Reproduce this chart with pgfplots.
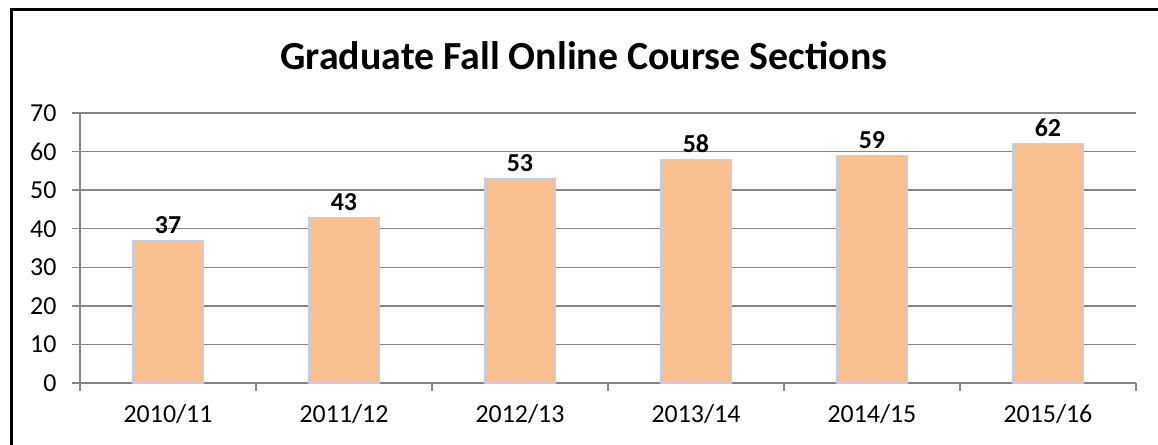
\documentclass[border=0pt]{standalone}
\usepackage{fontspec}
\setmainfont{Carlito}
\usepackage{pgfplots}
\pgfplotsset{compat=1.18}
\definecolor{barfill}{RGB}{249,192,144}
\definecolor{baredge}{RGB}{190,208,232}
\definecolor{gridc}{RGB}{134,134,134}

\begin{document}
\begin{tikzpicture}
\useasboundingbox (0,0) rectangle (1158bp,445bp);
\begin{scope}
  \clip (0,0) rectangle (1158bp,445bp);
  \draw[line width=3bp] (11bp,-20bp) -- (11bp,435bp) -- (1180bp,435bp);
\end{scope}
\node[font=\fontsize{40}{46}\selectfont\bfseries] at (584bp,389bp) {Graduate Fall Online Course Sections};
\begin{axis}[
  at={(80bp,62bp)}, anchor=south west,
  scale only axis, width=1056bp, height=270bp,
  xmin=-0.5, xmax=5.5, ymin=0, ymax=70,
  ytick={0,10,...,70},
  xtick={0,...,5},
  xticklabels={2010/11,2011/12,2012/13,2013/14,2014/15,2015/16},
  minor xtick={-0.5,0.5,...,5.5},
  major x tick style={draw=none},
  minor tick length=8bp, major tick length=8bp,
  tick align=outside,
  tick style={gridc, line width=1.5bp},
  ymajorgrids, grid style={gridc, line width=1.5bp},
  axis x line*=bottom, axis y line*=left,
  axis line style={gridc, line width=1.5bp},
  x axis line style={-}, y axis line style={-},
  /pgf/number format/assume math mode=true,
  ticklabel style={font=\fontsize{26}{30}\selectfont},
  yticklabel style={xshift=-12bp},
  xticklabel style={yshift=-10bp},
  clip=false,
]
\addplot[ybar, bar width=70bp, fill=barfill, draw=baredge, line width=1.2bp,
  nodes near coords,
  every node near coord/.append style={font=\fontsize{26}{30}\selectfont\bfseries, black, yshift=3bp}]
  coordinates {(0,37) (1,43) (2,53) (3,58) (4,59) (5,62)};
\end{axis}
\end{tikzpicture}
\end{document}
